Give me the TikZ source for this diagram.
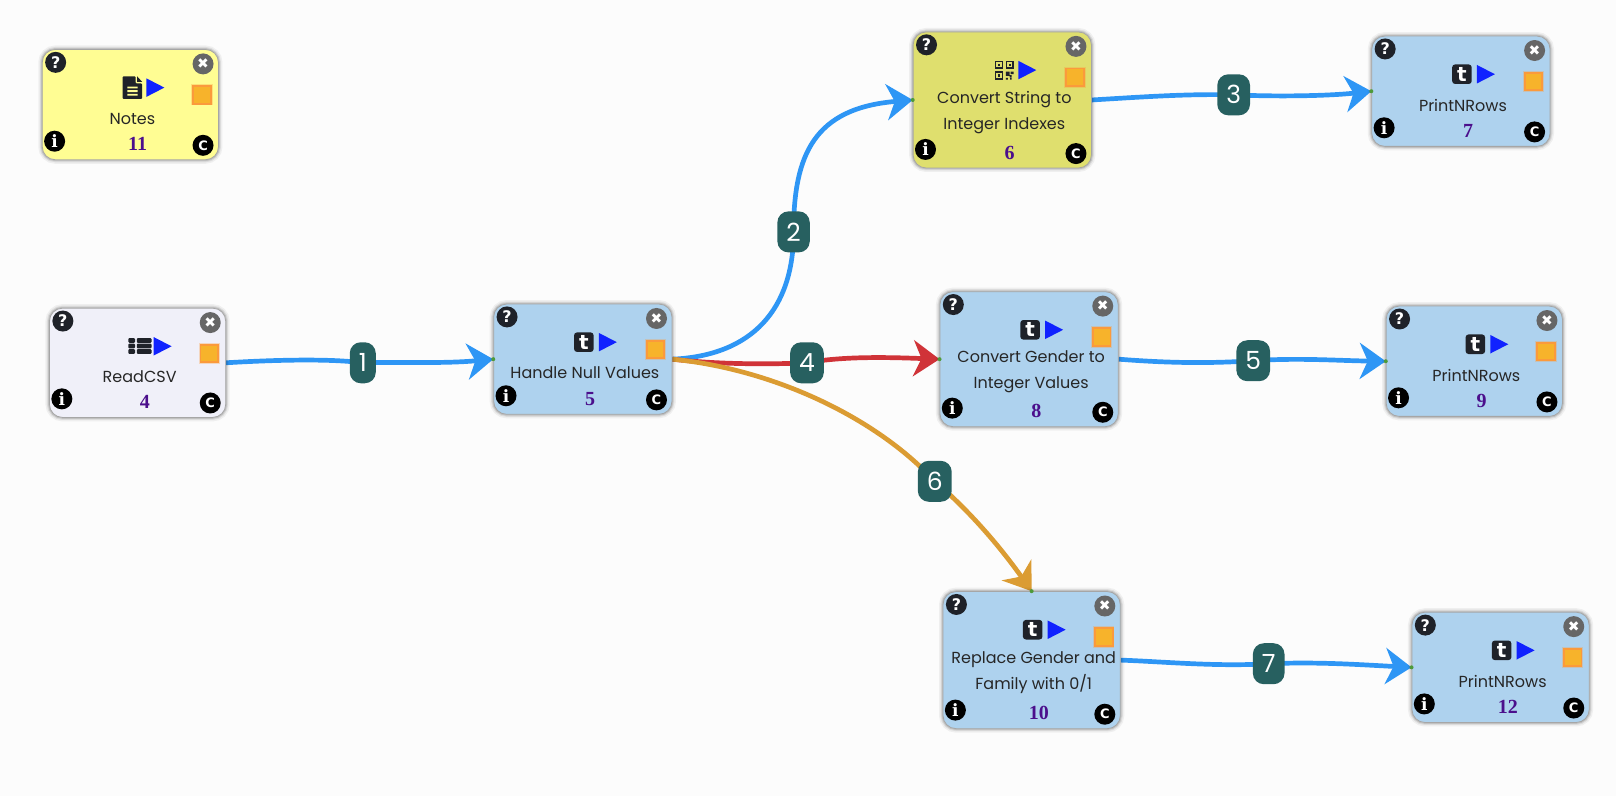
\documentclass[tikz,border=0pt]{standalone}
\usepackage{fontspec}
\setmainfont{Poppins}
\newfontfamily\numfont{Liberation Serif}[Scale=1]
\newfontfamily\glyphfont{DejaVu Sans}
\newfontfamily\slabfont{DejaVu Serif}
\usetikzlibrary{arrows.meta,backgrounds,calc}
\definecolor{flowblue}{HTML}{2E96F5}
\definecolor{flowred}{HTML}{D03338}
\definecolor{floworange}{HTML}{DB9C33}
\definecolor{badgeteal}{HTML}{276060}
\definecolor{boxblue}{HTML}{AED2EE}
\definecolor{boxyellow}{HTML}{FFFD93}
\definecolor{boxolive}{HTML}{DFDF6E}
\definecolor{boxlav}{HTML}{F0F0F9}
\definecolor{numpurple}{HTML}{4B0F8C}
\definecolor{playblue}{HTML}{1022FF}
\definecolor{sqfill}{HTML}{F7B32B}
\definecolor{sqedge}{HTML}{FB9A3C}
\definecolor{icondark}{HTML}{1F2229}
\definecolor{portgreen}{HTML}{4E9A3A}
\tikzset{
  x=1.0306pt,y=-1.0306pt,
  blockbox/.style={draw=black!35,line width=.8pt,rounded corners=13pt,inner sep=0pt,
    preaction={draw=black,draw opacity=.05,line width=8pt},
    preaction={draw=black,draw opacity=.08,line width=5pt},
    preaction={draw=black,draw opacity=.12,line width=2.8pt}},
  roundbtn/.style={circle,inner sep=0pt,text=white,minimum size=21pt},
  blocklabel/.style={align=center,inner sep=0pt,text=black!85,font=\fontsize{16}{25.8}\selectfont},
  blocknum/.style={inner sep=0pt,text=numpurple,font=\fontsize{20}{22}\numfont\bfseries},
  sqbtn/.style={draw=sqedge,fill=sqfill,line width=1.9pt,minimum size=17.5pt,inner sep=0pt,
    preaction={draw=sqedge,draw opacity=.3,line width=3.8pt}},
  flow/.style={line width=4.7pt,-{Stealth[length=26pt,width=36pt,inset=8pt]}},
  badge/.style={fill=badgeteal,text=white,rounded corners=11pt,minimum height=41pt,inner xsep=9pt,inner ysep=0pt,font=\fontsize{25}{27}\selectfont},
  portdot/.style={fill=portgreen},
}
\newcommand\tumblricon{%
  \fill[icondark,rounded corners=3pt] (-10.5,-9.5) rectangle (8.5,9.5);
  \node[inner sep=0pt,text=white,font=\fontsize{20}{21}\glyphfont\bfseries] (\curname-glyph) at (-1,0) {t};}
\newcommand\fileicon{%
  \fill[icondark,rounded corners=1pt] (-9.5,-11) -- (3,-11) -- (3,-4) -- (9.5,-4) -- (9.5,11) -- (-9.5,11) -- cycle;
  \fill[icondark] (4.5,-11) -- (9.5,-5.5) -- (4.5,-5.5) -- cycle;
  \fill[boxyellow] (-5,-1) rectangle (5,.8) (-5,2.5) rectangle (5,4.3) (-5,6) rectangle (5,7.8);}
\newcommand\listicon{%
  \foreach \yy in {-8,-2.6,2.8}{
    \fill[icondark,rounded corners=1pt] (-11,\yy) rectangle (-4.5,{\yy+4.6});
    \fill[icondark,rounded corners=1pt] (-2.8,\yy) rectangle (11.5,{\yy+4.6});}}
\newcommand\qricon{%
  \foreach \xx/\yy in {-8.5/-8.5,2/-8.5,-8.5/2}{
    \draw[icondark,line width=1.5pt] (\xx,\yy) rectangle ++(6.5,6.5);
    \fill[icondark] (\xx+2.2,\yy+2.2) rectangle ++(2.1,2.1);}
  \fill[icondark] (1.5,1.5) rectangle (5,5.5) (6,1.5) rectangle (9,4) (5,5) rectangle (7,7)
    (1.5,7.5) rectangle (3.5,9.2) (5.5,7.5) rectangle (7,9.2);}
% name, left, top, right, bottom, fill, icon, label, number
\newcommand\blockbox[9]{%
  \def\curname{#1}%
  \pgfmathsetmacro\ww{(#4-#2)*1.0306}%
  \pgfmathsetmacro\hh{(#5-#3)*1.0306}%
  \pgfmathsetmacro\cx{(#2+#4)/2}%
  \pgfmathsetmacro\cy{(#3+#5)/2}%
  \pgfmathsetmacro\ly{#3+67+(#5-#3-107)*.46}%
  \node[blockbox,fill=#6,minimum width=\ww pt,minimum height=\hh pt] (#1) at (\cx,\cy) {};
  \node[roundbtn,fill=icondark,font=\fontsize{16}{17}\glyphfont\bfseries] (#1-help) at (#2+13,#3+12.5) {?};
  \node[roundbtn,fill=black!60,font=\fontsize{14}{15}\glyphfont] (#1-close) at (#4-15,#3+14) {✖};
  \node[sqbtn] (#1-stop) at (#4-16,#3+44) {};
  \node[roundbtn,fill=black,font=\fontsize{17}{18}\slabfont\bfseries] (#1-info) at (#2+12,#5-18) {i};
  \node[roundbtn,fill=black,font=\fontsize{13}{14}\glyphfont\bfseries] (#1-code) at (#4-15,#5-14) {C};
  \begin{scope}[shift={(\cx+2,#3+37)}]#7\end{scope}
  \fill[playblue] (\cx+15.5,#3+28) -- (\cx+33,#3+37) -- (\cx+15.5,#3+46) -- cycle;
  \node[blocklabel] (#1-label) at (\cx+2,\ly) {#8};
  \node[blocknum] (#1-num) at (\cx+7,#5-15) {#9};
}
\begin{document}
\begin{tikzpicture}
\useasboundingbox (0,0) rectangle (1568,772.4);
\blockbox{notes}{41}{48}{212}{155}{boxyellow}{\fileicon}{Notes}{11}
\blockbox{read}{48}{299}{219}{405}{boxlav}{\listicon}{ReadCSV}{4}
\blockbox{nulls}{479}{295}{652}{402}{boxblue}{\tumblricon}{Handle Null Values}{5}
\blockbox{strint}{886}{31}{1059}{163}{boxolive}{\qricon}{Convert String to\\Integer Indexes}{6}
\blockbox{printa}{1331}{35}{1504}{142}{boxblue}{\tumblricon}{PrintNRows}{7}
\blockbox{gender}{912}{283}{1085}{414}{boxblue}{\tumblricon}{Convert Gender to\\Integer Values}{8}
\blockbox{printb}{1345}{297}{1516}{404}{boxblue}{\tumblricon}{PrintNRows}{9}
\blockbox{repl}{915}{574}{1087}{707}{boxblue}{\tumblricon}{Replace Gender and\\Family with 0/1}{10}
\blockbox{printc}{1370}{594}{1542}{701}{boxblue}{\tumblricon}{PrintNRows}{12}
\node[badge] (b1) at (352,352) {1};
\node[badge] (b2) at (770,225) {2};
\node[badge] (b3) at (1197,92) {3};
\node[badge] (b4) at (783,352) {4};
\node[badge] (b5) at (1216,350) {5};
\node[badge] (b6) at (907,467) {6};
\node[badge] (b7) at (1231,644) {7};
\foreach \pp in {nulls.west,strint.west,printa.west,gender.west,printb.west,printc.west,repl.north}
  \fill[portdot] (\pp) circle (2pt);
\begin{scope}[on background layer]
\fill[white!99!black] (0,0) rectangle (1568,772.4);
\draw[flow,flowblue] (read.east) .. controls (270,349) and (320,348) .. (b1.center) .. controls (390,351) and (430,353) .. (nulls.west);
\draw[flow,flowblue] (nulls.east) .. controls (730,345) and (770,300) .. (b2.center) .. controls (770,150) and (790,105) .. (strint.west);
\draw[flow,flowblue] (strint.east) .. controls (1110,94) and (1150,91) .. (b3.center) .. controls (1240,94) and (1290,93) .. (printa.west);
\draw[flow,flowblue] (gender.east) .. controls (1130,352) and (1170,353) .. (b5.center) .. controls (1260,347) and (1300,350) .. (printb.west);
\draw[flow,flowblue] (repl.east) .. controls (1130,642) and (1180,647) .. (b7.center) .. controls (1280,642) and (1320,645) .. (printc.west);
\draw[flow,flowred] (nulls.east) .. controls (690,353) and (740,354) .. (b4.center) .. controls (820,345) and (870,347) .. (gender.west);
\draw[flow,floworange] (nulls.east) .. controls (750,358) and (850,405) .. (b6.center) .. controls (940,495) and (970,530) .. (repl.north);
\end{scope}
\end{tikzpicture}
\end{document}
